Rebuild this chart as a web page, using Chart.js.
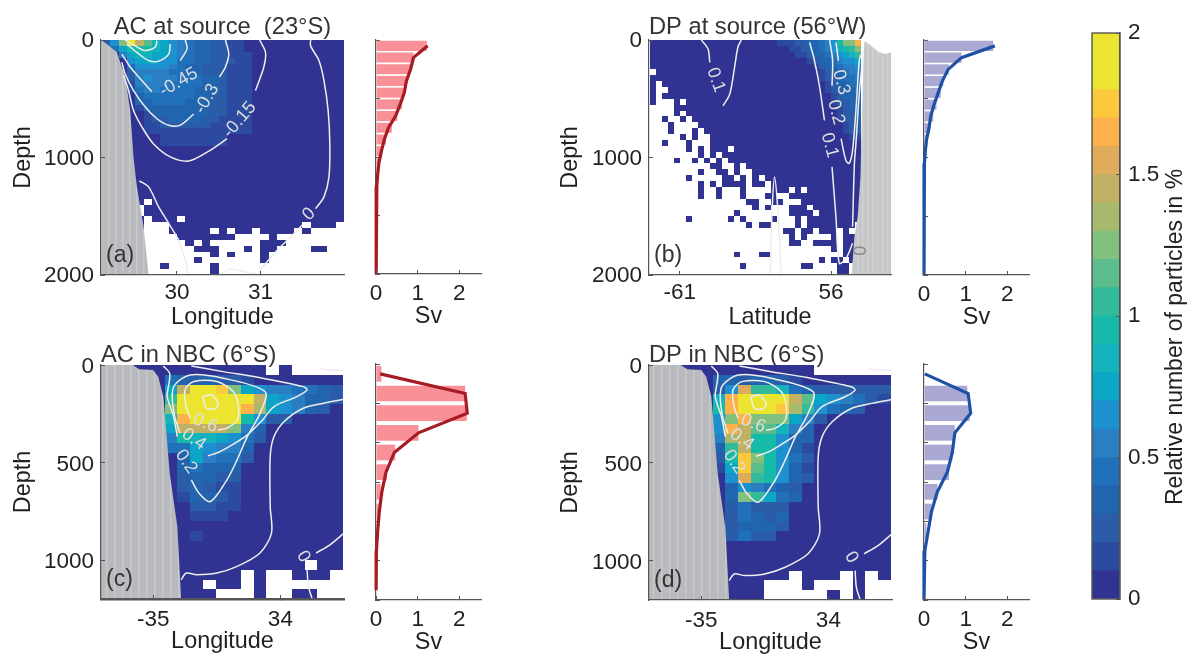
<!DOCTYPE html>
<html>
<head>
<meta charset="utf-8">
<title>Particles at source and in NBC</title>
<script src="https://cdn.jsdelivr.net/npm/chart.js@4"></script>
<style>
  html, body { margin: 0; background: #fff; overflow: hidden; }
  canvas { position: absolute; }
</style>
</head>
<body>
<script>
// colour of each 0.1 % class of the colorbar, bottom to top
const levelColors = ['#303391', '#2c4a9f', '#2a5ca8', '#2065ae', '#2071b9', '#2a7ec2', '#1d90d0', '#0ba5c6', '#14b2bc', '#15bba8',
  '#33ba9c', '#5cbd8c', '#82c07d', '#a6b96d', '#c2b165', '#dfac5b', '#fcb14b', '#fbc93b', '#ebe52f', '#ebe52f'];
const levelChars = '0123456789abcdefghij';
const colorbarTicks = [0, 0.5, 1, 1.5, 2];

// cell classes, one string per 50 m of depth, '.' = no particles
const acSourceCells = [
  '26cieb87654332211000000000000', '04799987654332211000000000000', '00578877654332211100000000000',
  '00067776644332221100000000000', '00046666543322211100000000000', '00025555443322211100000000000',
  '00025655544433211100000000000', '00015555444433211100000000000', '00014554444333211100000000000',
  '00003444444332211100000000000', '00003344443332211100000000000', '00001333333332211100000000000',
  '00000133333332211100000000000', '00000122333322111100000000000', '00000112222221111100000000000',
  '00000111111111111100000000000', '00000001111111100000000000000', '00000001111111100000000000000',
  '00000000000000000000000000000', '00000000000000000000000000000', '00000000000000000000000000000',
  '00000000000000000000000000000', '00000000000000000000000000000', '00000000000000000000000000000',
  '00000000000000000000000000000', '00000000000000000000000000000', '00000000000000000000000000000',
  '00000.00000000000000000000000', '0000.000000000000000000000000', '0000.000000000000000000000000',
  '00000.000.0000000000000000000', '00000...0000000000000000.000.', '00000...00000.0.00.0000.0....',
  '00000....0000000....0........', '00000.....0.0......000.......', '00000......000...0.00....00..',
  '00000........0.0...0.........', '00000......0.......0.........', '00000..0.....0...............',
  '00000........0...............'
];
const dpSourceCells = [
  '00000000000000000000011122334569ccg', '000000000000000000000001123345689ac', '0000000000000000000000001123345678a',
  '00000000000000000000000000123345667', '00000000000000000000000000012334556', '.0000000000000000000000000001233455',
  '00000000000000000000000000001223445', '0.000000000000000000000000000123344', '0..00000000000000000000000000122334',
  '0.000000000000000000000000000012333', '0...0.00000000000000000000000012233', '....0000000000000000000000000001233',
  '....0.00000000000000000000000001223', '..0..0.0000000000000000000000001222', '...0....000000000000000000000000122',
  '...0...0.00000000000000000000000122', '.....0.0..00000000000000000000000 11', '..0...0...0000000000000000000000000',
  '......0.0.000.000000000000000000000', '........0.0.00000000000000000000000', '....0..0.0.0.0000000000000000000000',
  '..........00..0.0000000000000000000', '........0..00.0..000000000000000000', '......0.....00.0.0.0000000000000000',
  '........0.0.0000.00.000000000000000', '........0..0...0....000.0.000000000', '........0..0...0...00..000000000000',
  '................00..00...0000000000', '.................0.0...000.00000000', '..............0........0000.0000000',
  '......0......0.0....0...0.000000000', '................0.00....0.00000000.', '......................00.00.000.0..',
  '.......................0.0....0.00.', '.......................00..0000.00.', '..............................0.00.',
  '..............0...00............00.', '............................0.00.0.', '...............0.........00....00..',
  '...............................00..'
].map(row => row.split(' ').join(''));
const acNbcCells = [
  '0000000000000.0....', '0000043232210000000', '000007eiihc76554432', '00000aiiiiiie765332',
  '00000ciiiiigd765320', '000008giiii96220000', '000007eeeec53000000', '0000059887642000000',
  '0000044765530000000', '0000003754420000000', '0000003433300000000', '0000002332200000000',
  '0000002321100000000', '0000001332100000000', '0000000221100000000', '0000000111000000000',
  '0000000000000000000', '0000000100000000000', '0000000000000000000', '0000000000000000000',
  '0000000000000000.00', '00000000000.0..000.', '00000000.00.0......', '000000000...0..00..'
];
const dpNbcCells = [
  '0000000000000......', '0000033233210000000', '0000026faa843222222', '000008giiiieb765421',
  '000009giiihda643200', '000006cgccc75200000', '000006gebb853000000', '000005de99633000000',
  '000003ae99631000000', '0000029hc9642000000', '0000017hb9631000000', '0000006fa9632000000',
  '0000003654320000000', '0000003ca7430000000', '0000002422200000000', '0000002432300000000',
  '0000002333200000000', '0000002422000000000', '0000000000000000000', '0000000000000000000',
  '0000000000000000000', '00000000000.000.0.0', '000000000...0...0..', '000000000.....0.0..'
];

// sea floor, [lon or lat, depth]
const acSourceLand = [[29.09, 0], [29.16, 35], [29.28, 105], [29.38, 315], [29.44, 600], [29.48, 1000], [29.52, 1250], [29.6, 1590], [29.66, 2000]];
const dpSourceLand = [[-55.32, 2000], [-55.23, 1675], [-55.12, 1505], [-55.03, 1165], [-54.98, 600], [-54.93, 175], [-54.9, 10],
  [-54.85, 20], [-54.74, 35], [-54.63, 60], [-54.41, 105], [-54.19, 120], [-54.02, 105]];
const nbcLand = [[-35.41, 0], [-35.16, 0], [-35.11, 22], [-35, 26], [-34.96, 60], [-34.92, 162], [-34.87, 555], [-34.81, 828], [-34.78, 1200]];

// velocity contours, broken where a label sits
const acSourceContours = [
  [[31.6, 0], [31.6, 50], [31.7, 175], [31.76, 345], [31.81, 600], [31.83, 885], [31.82, 1165], [31.76, 1335], [31.66, 1435]],
  [[31.5, 1575], [31.32, 1705], [31.2, 1790], [31, 1960], [30.99, 2000]],
  [[29.55, 1200], [29.66, 1250], [29.78, 1420], [29.9, 1560], [30.02, 1705], [30.1, 1875], [30.13, 2000]],
  [[30.5, 2000], [30.64, 1950], [30.8, 1970], [31, 2000]],
  [[30.99, 0], [31.06, 105], [31.04, 230], [30.94, 430]],
  [[30.6, 840], [30.36, 955], [30.14, 1030], [29.92, 995], [29.72, 885], [29.58, 740], [29.48, 600], [29.42, 430], [29.36, 300]],
  [[30.58, 0], [30.62, 120], [30.58, 230], [30.51, 315]],
  [[30.2, 630], [30.04, 725], [29.9, 725], [29.76, 670], [29.62, 570], [29.48, 430], [29.38, 290], [29.34, 190]],
  [[30.1, 0], [30.12, 75], [30.04, 175]],
  [[29.7, 440], [29.56, 330], [29.44, 230], [29.34, 120]],
  [[29.92, 35], [29.9, 120], [29.78, 180], [29.66, 175], [29.52, 105], [29.4, 35]],
  [[29.76, 5], [29.74, 60], [29.62, 90], [29.5, 50], [29.38, 0]]
];
const dpSourceContours = [
  [[-60.29, 0], [-60.07, 75], [-60.01, 190]],
  [[-59.57, 560], [-59.35, 460], [-59.19, 230], [-59.08, 60], [-58.97, 0]],
  [[-56.71, 20], [-56.55, 175], [-56.38, 400], [-56.22, 685]],
  [[-55.97, 1080], [-55.84, 1505], [-55.73, 1900], [-55.51, 1860], [-55.29, 1730]],
  [[-56.05, 0], [-55.95, 175], [-55.97, 390]],
  [[-55.67, 840], [-55.51, 1025], [-55.4, 1050], [-55.29, 940], [-55.18, 600], [-55.07, 175], [-55.01, 120]],
  [[-55.84, 20], [-55.76, 175]],
  [[-54.93, 90], [-55.07, 460], [-55.18, 885], [-55.23, 1050], [-55.29, 1590]],
  [[-58.01, 2000], [-57.95, 1450], [-57.87, 1165], [-57.76, 1450], [-57.65, 2000]]
];
const nbcContours = [
  [[-34.92, 5], [-34.87, 43], [-34.88, 111], [-34.89, 162], [-34.84, 265], [-34.81, 367]],
  [[-34.7, 5], [-34.45, 34], [-34.18, 63], [-33.82, 111], [-33.79, 128], [-33.87, 162], [-34.05, 213], [-34.14, 282], [-34.26, 358], [-34.38, 410], [-34.49, 449], [-34.57, 466]],
  [[-34.79, 350], [-34.83, 265], [-34.85, 162], [-34.83, 102], [-34.71, 51], [-34.45, 68], [-34.12, 137], [-34.16, 248], [-34.26, 367], [-34.34, 486], [-34.42, 589], [-34.55, 700], [-34.64, 657], [-34.7, 589]],
  [[-34.71, 273], [-34.74, 213], [-34.75, 128], [-34.68, 85], [-34.5, 85], [-34.37, 137], [-34.33, 213], [-34.34, 282], [-34.42, 324], [-34.49, 333]],
  [[-34.61, 162], [-34.54, 154], [-34.49, 196], [-34.51, 222], [-34.58, 222], [-34.61, 162]],
  [[-33.5, 176], [-33.66, 196], [-33.82, 222], [-33.97, 290], [-34.05, 367], [-34.08, 469], [-34.08, 725], [-34.07, 862], [-34.16, 964], [-34.34, 1033], [-34.5, 1067], [-34.66, 1075], [-34.74, 1067], [-34.78, 1101]],
  [[-33.5, 862], [-33.61, 922], [-33.72, 964]],
  [[-33.79, 1050], [-33.78, 1135], [-33.75, 1200]],
  [[-33.68, 17], [-33.62, 26], [-33.5, 26]]
];

// contour labels: text, lon or lat, depth, angle in degrees
const acSourceLabels = [['-0.45', 30.02, 360, -30], ['-0.3', 30.36, 500, -60], ['-0.15', 30.75, 680, -50], ['0', 31.58, 1483, -45]];
const dpSourceLabels = [['0.1', -59.81, 340, 70], ['0.3', -55.67, 360, 75], ['0.2', -55.84, 615, 75], ['0.1', -56.05, 897, 75], ['0', -55.12, 1794, 90]];
const nbcLabels = [['0.6', -34.59, 299, 22], ['0.4', -34.68, 381, 35], ['0.2', -34.74, 495, 55], ['0', -33.82, 982, 60]];

// side profiles in Sv
const deepBins = [50, 150, 250, 350, 450, 550, 650, 750, 850, 950, 1050, 1150, 1250, 1350, 1450, 1550, 1650, 1750, 1850, 1950];
const shallowBins = [50, 150, 250, 350, 450, 550, 650, 750, 850, 950, 1050, 1150];
const acSourceBars = [1.22, 0.9, 0.82, 0.74, 0.66, 0.62, 0.51, 0.38, 0.24, 0.14, 0.07, 0.04, 0.03, 0.02, 0.01, 0.01, 0, 0, 0, 0];
const acSourceLine = [1.24, 0.9, 0.83, 0.73, 0.68, 0.58, 0.47, 0.3, 0.2, 0.13, 0.07, 0.04, 0.02, 0.015, 0.01, 0.01, 0, 0, 0, 0];
const dpSourceBars = [1.66, 0.9, 0.6, 0.46, 0.4, 0.3, 0.22, 0.13, 0.08, 0.04, 0.02, 0.01, 0.01, 0, 0, 0, 0, 0, 0, 0];
const dpSourceLine = [1.7, 0.9, 0.58, 0.44, 0.34, 0.24, 0.16, 0.12, 0.06, 0.03, 0.01, 0.01, 0, 0, 0, 0, 0, 0, 0, 0];
const acNbcBars = [0.13, 2.14, 2.18, 1.02, 0.46, 0.26, 0.11, 0.06, 0.03, 0.02, 0.01, 0.01];
const acNbcLine = [0.1, 2.14, 2.19, 1.02, 0.44, 0.24, 0.14, 0.08, 0.04, 0.01, 0.005, 0];
const dpNbcBars = [0, 1.04, 1.1, 0.74, 0.68, 0.6, 0.32, 0.18, 0.06, 0.01, 0, 0];
const dpNbcLine = [0.02, 1.06, 1.12, 0.74, 0.68, 0.56, 0.32, 0.18, 0.1, 0.02, 0, 0];

const textColor = '#231f20';
const axisColor = '#555';
const fontName = '"Liberation Sans", Arial, sans-serif';
Chart.defaults.font.family = fontName;
Chart.defaults.color = textColor;
Chart.defaults.animation = false;

function stripes(base, line, w) {
  const c = document.createElement('canvas');
  c.width = w;
  c.height = 4;
  const g = c.getContext('2d');
  g.fillStyle = base;
  g.fillRect(0, 0, w, 4);
  g.fillStyle = line;
  g.fillRect(0, 0, 1.4, 4);
  return g.createPattern(c, 'repeat');
}

// puts a canvas so that the chart area lands exactly on box
function place(box, m, config) {
  const canvas = document.createElement('canvas');
  canvas.width = m.l + box.w + m.r;
  canvas.height = m.t + box.h + m.b;
  canvas.style.left = (box.x - m.l) + 'px';
  canvas.style.top = (box.y - m.t) + 'px';
  document.body.appendChild(canvas);
  config.options.responsive = false;
  config.options.devicePixelRatio = 1;
  return new Chart(canvas, config);
}

function fixedAxis(extra) {
  return Object.assign({
    border: { color: axisColor, width: 1.2, z: 2 },
    grid: { drawOnChartArea: false, color: axisColor, tickLength: -4, z: 2 }
  }, extra);
}

function heatPlugin(cells, x0, dx) {
  return {
    id: 'heat',
    beforeDatasetsDraw(chart) {
      const { ctx, scales, chartArea } = chart;
      ctx.save();
      ctx.beginPath();
      ctx.rect(chartArea.left, chartArea.top, chartArea.width, chartArea.height);
      ctx.clip();
      cells.forEach((row, j) => {
        const y0 = Math.round(scales.y.getPixelForValue(j * 50));
        const y1 = Math.round(scales.y.getPixelForValue((j + 1) * 50));
        row.split('').forEach((ch, i) => {
          if (ch === '.') return;
          const a = Math.round(scales.x.getPixelForValue(x0 + i * dx));
          const b = Math.round(scales.x.getPixelForValue(x0 + (i + 1) * dx));
          ctx.fillStyle = levelColors[levelChars.indexOf(ch)];
          ctx.fillRect(a, y0, b - a, y1 - y0);
        });
      });
      ctx.restore();
    }
  };
}

function labelPlugin(labels, letter) {
  return {
    id: 'labels',
    afterDatasetsDraw(chart) {
      const { ctx, scales, chartArea } = chart;
      ctx.save();
      ctx.textAlign = 'center';
      ctx.textBaseline = 'middle';
      ctx.font = '18px ' + fontName;
      labels.forEach(l => {
        ctx.save();
        ctx.translate(scales.x.getPixelForValue(l[1]), scales.y.getPixelForValue(l[2]));
        ctx.rotate(l[3] * Math.PI / 180);
        ctx.fillStyle = l[3] === 90 ? '#888' : '#dedede';
        ctx.fillText(l[0], 0, 0);
        ctx.restore();
      });
      ctx.font = '23px ' + fontName;
      ctx.textAlign = 'left';
      ctx.fillStyle = '#333';
      ctx.fillText(letter, chartArea.left + 5, chartArea.bottom - 19);
      ctx.restore();
    }
  };
}

function mainPanel(p) {
  const titleH = 23.7 + p.titlePad;
  const toPoints = list => list.map(q => ({ x: q[0], y: q[1] }));
  const lines = p.contours.map(c => ({
    type: 'scatter', data: toPoints(c), showLine: true, pointRadius: 0, borderColor: '#eeeeee', borderWidth: 1.5, tension: 0.3, fill: false
  }));
  const land = {
    type: 'scatter', data: toPoints(p.land), showLine: true, pointRadius: 0, borderWidth: 0, tension: 0,
    fill: { value: p.yMax }, backgroundColor: p.landFill
  };
  place(p.box, { l: p.left, r: 8, t: 40, b: 57 }, {
    type: 'scatter',
    data: { datasets: lines.concat([land]) },
    options: {
      layout: { padding: { top: 40 - titleH, right: 8 } },
      plugins: {
        legend: { display: false },
        tooltip: { enabled: false },
        title: { display: true, text: p.title, align: p.titleAlign, fullSize: false, color: '#333',
          font: { size: 23.7, weight: 'normal', lineHeight: 1 }, padding: { top: 0, bottom: p.titlePad } }
      },
      scales: {
        x: fixedAxis({
          type: 'linear', min: p.xMin, max: p.xMax,
          border: { color: axisColor, width: p.xBorder, z: 2 },
          afterBuildTicks: s => { s.ticks = p.xTicks.map(v => ({ value: v })); },
          afterFit: s => { s.height = 57; },
          ticks: { font: { size: 22.5 }, padding: p.xTickPad, maxRotation: 0, autoSkip: false, callback: (v, i) => p.xLabels[i] },
          title: { display: true, text: p.xTitle, font: { size: 23.4 }, padding: 0 }
        }),
        y: fixedAxis({
          type: 'linear', reverse: true, min: 0, max: p.yMax,
          afterBuildTicks: s => { s.ticks = p.yTicks.map(v => ({ value: v })); },
          afterFit: s => { s.width = p.left; },
          ticks: { font: { size: 22.5 }, padding: 11, autoSkip: false, labelOffset: p.yLabelShift, callback: v => String(v) },
          title: { display: true, text: 'Depth', font: { size: 23.4 }, padding: 0 }
        })
      }
    },
    plugins: [heatPlugin(p.cells, p.x0, p.dx), labelPlugin(p.labels, p.letter)]
  });
}

function sidePanel(p) {
  place(p.box, { l: 12, r: 5, t: 6, b: 57 }, {
    type: 'bar',
    data: {
      datasets: [
        { type: 'line', data: p.lineDepths.map((d, i) => ({ x: p.line[i], y: d })), borderColor: p.lineColor, borderWidth: 3.2, pointRadius: 0, tension: 0, clip: 4, fill: false },
        { type: 'bar', data: p.bins.map((d, i) => ({ x: p.bars[i], y: d })), backgroundColor: p.barColor, categoryPercentage: 1, barPercentage: p.barShare }
      ]
    },
    options: {
      indexAxis: 'y',
      layout: { padding: { top: 6, right: 5 } },
      plugins: { legend: { display: false }, tooltip: { enabled: false } },
      scales: {
        x: fixedAxis({
          type: 'linear', min: 0, max: 2.52,
          afterBuildTicks: s => { s.ticks = [0, 1, 2].map(v => ({ value: v })); },
          afterFit: s => { s.height = 57; s.paddingLeft = 0; s.paddingRight = 0; },
          ticks: { font: { size: 22.5 }, padding: 10, maxRotation: 0, callback: v => String(v) },
          title: { display: true, text: 'Sv', font: { size: 23.4 }, padding: 0 }
        }),
        y: {
          type: 'linear', reverse: true, min: 0, max: p.yMax, offset: false,
          border: { color: axisColor, width: 1.2 },
          grid: { drawOnChartArea: false, color: axisColor, tickLength: -4, offset: false },
          afterFit: s => { s.width = 12; },
          ticks: { display: false, stepSize: p.yStep }
        }
      }
    }
  });
}

const nbcX = { xMin: -35.41, xMax: -33.5, xTicks: [-35, -34], xLabels: ['-35', '34'], x0: -35.41, dx: 0.1, xTitle: 'Longitude', yMax: 1200, yTicks: [0, 500, 1000], yLabelShift: 2, xTickPad: 11 };
const sourceY = { yMax: 2000, yTicks: [0, 1000, 2000], yLabelShift: 1, xTickPad: 8, xBorder: 1.2 };

mainPanel(Object.assign({}, sourceY, {
  box: { x: 101, y: 39.5, w: 243, h: 235.5 }, left: 91, title: 'AC at source  (23°S)', titleAlign: 'center', titlePad: 1,
  xMin: 29.09, xMax: 32, xTicks: [30, 31], xLabels: ['30', '31'], x0: 29.1, dx: 0.1, xTitle: 'Longitude',
  cells: acSourceCells, land: acSourceLand, landFill: stripes('#b9babd', '#c9cacc', 7), contours: acSourceContours, labels: acSourceLabels, letter: '(a)'
}));
mainPanel(Object.assign({}, sourceY, {
  box: { x: 649, y: 39.5, w: 242.5, h: 235.5 }, left: 92, title: 'DP at source (56°W)', titleAlign: 'start', titlePad: 1,
  xMin: -62.02, xMax: -54.02, xTicks: [-61, -56], xLabels: ['-61', '56'], x0: -62, dx: 0.2, xTitle: 'Latitude',
  cells: dpSourceCells, land: dpSourceLand, landFill: stripes('#c6c7c9', '#d0d1d2', 5), contours: dpSourceContours, labels: dpSourceLabels, letter: '(b)'
}));
mainPanel(Object.assign({}, nbcX, {
  box: { x: 101, y: 365, w: 243, h: 234 }, left: 91, title: 'AC in NBC (6°S)', titleAlign: 'start', titlePad: -2, xBorder: 2.4,
  cells: acNbcCells, land: nbcLand, landFill: stripes('#b9babd', '#c9cacc', 8), contours: nbcContours, labels: nbcLabels, letter: '(c)'
}));
mainPanel(Object.assign({}, nbcX, {
  box: { x: 649, y: 365, w: 243, h: 235 }, left: 92, title: 'DP in NBC (6°S)', titleAlign: 'start', titlePad: -2, xBorder: 1.2,
  cells: dpNbcCells, land: nbcLand, landFill: stripes('#b9babd', '#c9cacc', 8), contours: nbcContours, labels: nbcLabels, letter: '(d)'
}));

const redBar = '#f99097', redLine = '#a51c24', blueBar = '#a9a9d4', blueLine = '#1e50a6';
sidePanel({ box: { x: 376, y: 39.5, w: 105, h: 234 }, bins: deepBins, lineDepths: deepBins.concat([2000]), bars: acSourceBars, line: acSourceLine.concat([0]), barColor: redBar, lineColor: redLine, barShare: 0.86, yMax: 2000, yStep: 500 });
sidePanel({ box: { x: 924, y: 39.5, w: 105, h: 235 }, bins: deepBins, lineDepths: deepBins.concat([2000]), bars: dpSourceBars, line: dpSourceLine.concat([0]), barColor: blueBar, lineColor: blueLine, barShare: 0.86, yMax: 2000, yStep: 500 });
sidePanel({ box: { x: 376, y: 364, w: 105, h: 236 }, bins: shallowBins, lineDepths: shallowBins, bars: acNbcBars, line: acNbcLine, barColor: redBar, lineColor: redLine, barShare: 0.8, yMax: 1200, yStep: 200 });
sidePanel({ box: { x: 924, y: 364, w: 105, h: 236 }, bins: shallowBins, lineDepths: shallowBins.concat([1200]), bars: dpNbcBars, line: dpNbcLine.concat([0]), barColor: blueBar, lineColor: blueLine, barShare: 0.8, yMax: 1200, yStep: 200 });

// colorbar
place({ x: 1092, y: 33, w: 28, h: 566 }, { l: 2, r: 67, t: 16, b: 16 }, {
  type: 'bar',
  data: {
    labels: [''],
    datasets: levelColors.map(c => ({ data: [0.1], backgroundColor: c, categoryPercentage: 1, barPercentage: 1 }))
  },
  options: {
    layout: { padding: { top: 16, right: 0, bottom: 16, left: 2 } },
    plugins: { legend: { display: false }, tooltip: { enabled: false } },
    scales: {
      x: { display: false, stacked: true },
      y: fixedAxis({
        position: 'right', stacked: true, min: 0, max: 2,
        afterBuildTicks: s => { s.ticks = colorbarTicks.map(v => ({ value: v })); },
        afterFit: s => { s.width = 67; s.paddingTop = 0; s.paddingBottom = 0; },
        ticks: { font: { size: 22.5 }, padding: 12, callback: v => String(v) }
      })
    }
  },
  plugins: [{
    id: 'barFrame',
    afterDraw(chart) {
      const { ctx, chartArea: a } = chart;
      ctx.save();
      ctx.strokeStyle = axisColor;
      ctx.lineWidth = 1.4;
      ctx.strokeRect(a.left, a.top, a.width, a.height);
      ctx.translate(a.right + 56, a.top + 304);
      ctx.rotate(-Math.PI / 2);
      ctx.textAlign = 'center';
      ctx.textBaseline = 'middle';
      ctx.font = '23px ' + fontName;
      ctx.fillStyle = textColor;
      ctx.fillText('Relative number of particles in %', 0, 0);
      ctx.restore();
    }
  }]
});
</script>
</body>
</html>
